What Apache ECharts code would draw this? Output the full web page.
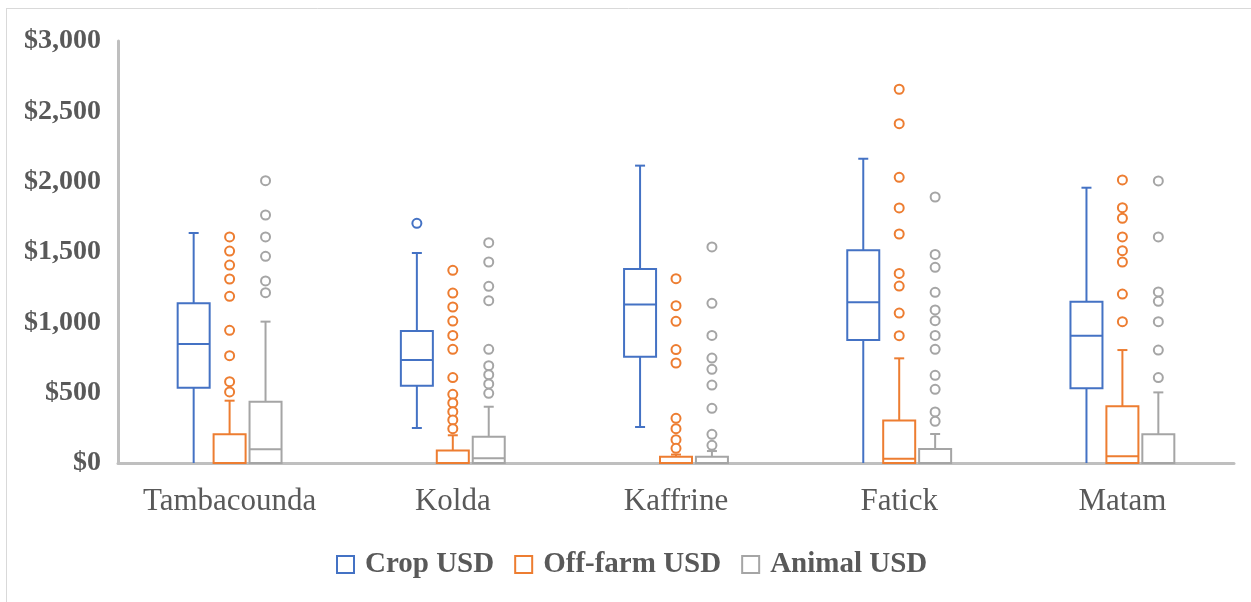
<!DOCTYPE html>
<html>
<head>
<meta charset="utf-8">
<script src="https://cdn.jsdelivr.net/npm/echarts@6/dist/echarts.min.js"></script>
<style>
  html, body { margin: 0; padding: 0; background: #fff; }
  #main { width: 1251px; height: 602px; }
</style>
</head>
<body>
<div id="main"></div>
<script>
var chart = echarts.init(document.getElementById('main'));

var regions = ['Tambacounda', 'Kolda', 'Kaffrine', 'Fatick', 'Matam'];
var yTicks = [0, 500, 1000, 1500, 2000, 2500, 3000];

// [min, Q1, median, Q3, max] per region
var cropBox = [
  [0, 535, 846, 1135, 1635],
  [249, 550, 732, 938, 1493],
  [256, 756, 1126, 1379, 2114],
  [0, 874, 1142, 1512, 2163],
  [0, 531, 905, 1147, 1957]
];
var offfarmBox = [
  [0, 0, 0, 204, 443],
  [0, 0, 0, 88, 197],
  [0, 0, 0, 45, 60],
  [0, 0, 31, 303, 744],
  [0, 0, 48, 403, 803]
];
var animalBox = [
  [0, 0, 97, 436, 1005],
  [0, 0, 33, 187, 400],
  [0, 0, 0, 45, 85],
  [0, 0, 0, 100, 206],
  [0, 0, 0, 204, 502]
];

// outliers per region
var cropOut = [[], [1704], [], [], []];
var offfarmOut = [
  [1607, 1507, 1407, 1308, 1185, 943, 763, 578, 505],
  [1370, 1208, 1109, 1009, 907, 808, 607, 488, 427, 365, 306, 244],
  [1310, 1118, 1007, 806, 711, 318, 244, 166, 104],
  [2657, 2412, 2031, 1813, 1628, 1348, 1258, 1066, 905],
  [2012, 1815, 1740, 1607, 1509, 1429, 1201, 1005]
];
var animalOut = [
  [2007, 1763, 1607, 1469, 1294, 1211],
  [1566, 1429, 1256, 1154, 808, 692, 628, 562, 495],
  [1536, 1135, 907, 746, 666, 554, 389, 204, 126],
  [1891, 1483, 1391, 1213, 1088, 1012, 907, 808, 623, 524, 363, 296],
  [2005, 1607, 1216, 1149, 1005, 803, 607]
];

var names = ['Crop USD', 'Off-farm USD', 'Animal USD'];
var colors = ['#4472C4', '#ED7D31', '#A5A5A5'];
var offsets = [-0.161, 0, 0.161];  // position within a category
var boxes = [cropBox, offfarmBox, animalBox];
var outs = [cropOut, offfarmOut, animalOut];

var txt = '#595959';
var serif = "'Liberation Serif', 'Times New Roman', serif";

function boxRender(offset, color) {
  return function (params, api) {
    var x = api.value(0) + offset;
    var vMin = api.value(1), q1 = api.value(2), med = api.value(3), q3 = api.value(4), vMax = api.value(5);
    var pMin = api.coord([x, vMin]), p1 = api.coord([x, q1]), pm = api.coord([x, med]);
    var p3 = api.coord([x, q3]), pMax = api.coord([x, vMax]);
    var cx = pm[0], hw = 16, cap = 5;
    var st = { stroke: color, lineWidth: 2, fill: null };
    var kids = [
      { type: 'rect', shape: { x: cx - hw, y: p3[1], width: hw * 2, height: p1[1] - p3[1] }, style: { stroke: color, lineWidth: 2, fill: '#fff' } },
      { type: 'line', shape: { x1: cx - hw, y1: pm[1], x2: cx + hw, y2: pm[1] }, style: st },
      { type: 'line', shape: { x1: cx, y1: p3[1], x2: cx, y2: pMax[1] }, style: st },
      { type: 'line', shape: { x1: cx - cap, y1: pMax[1], x2: cx + cap, y2: pMax[1] }, style: st },
      { type: 'line', shape: { x1: cx, y1: p1[1], x2: cx, y2: pMin[1] }, style: st }
    ];
    if (vMin > 0) {
      kids.push({ type: 'line', shape: { x1: cx - cap, y1: pMin[1], x2: cx + cap, y2: pMin[1] }, style: st });
    }
    return { type: 'group', children: kids };
  };
}

var series = [];
for (var s = 0; s < 3; s++) {
  var bd = boxes[s].map(function (b, i) { return [i].concat(b); });
  series.push({
    name: names[s],
    type: 'custom',
    xAxisIndex: 1,
    renderItem: boxRender(offsets[s], colors[s]),
    encode: { x: 0, y: [1, 2, 3, 4, 5] },
    itemStyle: { color: '#fff', borderColor: colors[s], borderWidth: 2 },
    data: bd,
    z: 3
  });
  var od = [];
  outs[s].forEach(function (arr, i) {
    arr.forEach(function (v) { od.push([i + offsets[s], v]); });
  });
  series.push({
    name: names[s],
    type: 'scatter',
    xAxisIndex: 1,
    symbol: 'circle',
    symbolSize: 9,
    itemStyle: { color: '#fff', borderColor: colors[s], borderWidth: 2, opacity: 1 },
    data: od,
    z: 4
  });
}

var option = {
  animation: false,
  backgroundColor: '#fff',
  grid: { left: 118, right: 17, top: 41, bottom: 139 },
  legend: {
    left: 331,
    top: 545,
    itemWidth: 17,
    itemHeight: 17,
    itemGap: 20,
    icon: 'rect',
    data: names.map(function (n, i) {
      return { name: n, itemStyle: { color: '#fff', borderColor: colors[i], borderWidth: 2 } };
    }),
    textStyle: { fontFamily: serif, fontWeight: 'bold', fontSize: 29, color: txt, padding: [0, 0, 0, 6] }
  },
  xAxis: [
    {
      type: 'category',
      data: regions,
      axisLine: { show: true, lineStyle: { color: '#BFBFBF', width: 3 } },
      axisTick: { show: false },
      axisLabel: { interval: 0, fontFamily: serif, fontSize: 31, color: txt, margin: 23 }
    },
    {
      type: 'value',
      min: -0.5,
      max: 4.5,
      show: false
    }
  ],
  yAxis: {
    type: 'value',
    min: yTicks[0],
    max: yTicks[yTicks.length - 1],
    interval: 500,
    axisLine: { show: true, onZero: false, lineStyle: { color: '#BFBFBF', width: 3 } },
    axisTick: { show: false },
    splitLine: { show: false },
    axisLabel: {
      fontFamily: serif, fontWeight: 'bold', fontSize: 28, color: txt, margin: 17,
      formatter: function (v) { return '$' + v.toLocaleString('en-US'); }
    }
  },
  graphic: [
    { type: 'line', shape: { x1: 6.5, y1: 8, x2: 6.5, y2: 602 }, style: { stroke: '#D9D9D9', lineWidth: 1 } },
    { type: 'line', shape: { x1: 6, y1: 8.5, x2: 1251, y2: 8.5 }, style: { stroke: '#D9D9D9', lineWidth: 1 } }
  ],
  series: series
};

chart.setOption(option);
</script>
</body>
</html>
